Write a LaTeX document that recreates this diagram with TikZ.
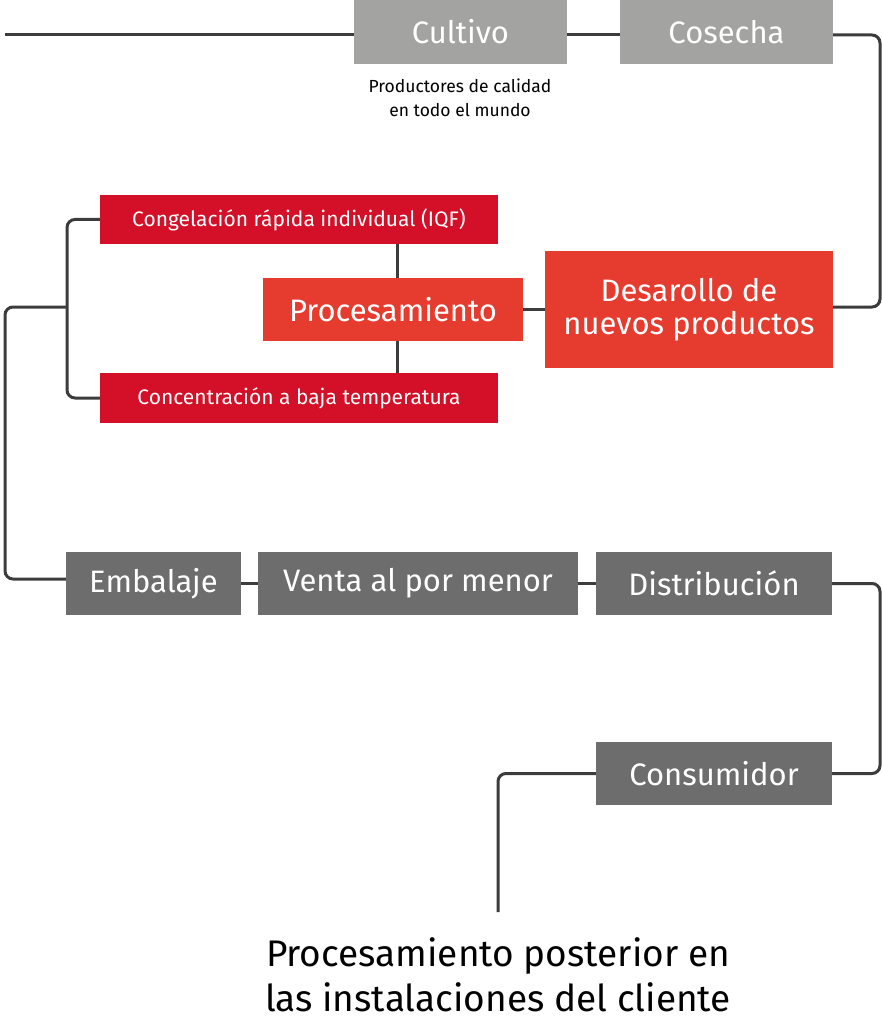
\documentclass[tikz,border=0pt]{standalone}
\usepackage{fontspec}
\setmainfont{Fira Sans}
\definecolor{lgray}{HTML}{A3A3A2}
\definecolor{dgray}{HTML}{6D6D6D}
\definecolor{dred}{HTML}{D31027}
\definecolor{ored}{HTML}{E63C2F}
\definecolor{ln}{HTML}{3C3C3C}
\begin{document}
\begin{tikzpicture}[x=1pt,y=-1pt,
 box/.style={inner sep=0pt,text=white,align=center},
 conn/.style={draw=ln,line width=3pt,rounded corners=8pt},
 big/.style={font=\fontsize{31}{37}\selectfont},
 small/.style={font=\fontsize{21}{25}\selectfont}]
\useasboundingbox (0,0) rectangle (882,1024);
\node[box,big,fill=lgray,minimum width=213pt,minimum height=64pt] (cult) at (460.5,32) {Cultivo};
\node[box,big,fill=lgray,minimum width=213pt,minimum height=64pt] (cos) at (726.5,32) {Cosecha};
\coordinate (s) at (5,35);
\node[align=center,font=\fontsize{17.5}{24}\selectfont] (cap) at (460,98) {Productores de calidad\\en todo el mundo};
\node[box,small,fill=dred,minimum width=398pt,minimum height=49pt] (iqf) at (299,219.5) {Congelación rápida individual (IQF)};
\node[box,big,fill=ored,minimum width=260pt,minimum height=63pt] (proc) at (393,309.5) {Procesamiento};
\node[box,big,fill=ored,minimum width=288pt,minimum height=117pt] (des) at (689,309.5) {Desarollo de\\[-4pt]nuevos productos};
\node[box,small,fill=dred,minimum width=398pt,minimum height=50pt] (conc) at (299,398) {Concentración a baja temperatura};
\node[box,big,fill=dgray,minimum width=175pt,minimum height=63pt] (emb) at (153.5,583.5) {Embalaje};
\node[box,big,fill=dgray,minimum width=320pt,minimum height=63pt] (ven) at (418,583.5) {Venta al por menor};
\node[box,big,fill=dgray,minimum width=236pt,minimum height=63pt] (dis) at (714,583.5) {Distribución};
\node[box,big,fill=dgray,minimum width=236pt,minimum height=63pt] (con) at (714,773.5) {Consumidor};
\coordinate (e) at (498,912);
\node[align=center,font=\fontsize{37}{45}\selectfont] (fin) at (498,975) {Procesamiento posterior en\\las instalaciones del cliente};
\draw[conn] (s) -- (cult.west |- s);
\draw[conn] (cult.east |- s) -- (cos.west |- s);
\draw[conn] (cos.east |- s) -- (880,35) -- (880,307) -- (des.east |- 0,307);
\draw[conn] (proc.east) -- (des.west |- proc.east);
\draw[conn] (397,244) -- (397,278);
\draw[conn] (397,341) -- (397,373);
\draw[conn] (iqf.west) -- (67,219.5) -- (67,398) -- (conc.west);
\draw[conn] (67,307) -- (5,307) -- (5,579) -- (emb.west |- 0,579);
\draw[conn] (emb.east) -- (ven.west);
\draw[conn] (ven.east) -- (dis.west);
\draw[conn] (dis.east) -- (880,583.5) -- (880,773.5) -- (con.east);
\draw[conn] (con.west) -- (498,773.5) -- (e);
\end{tikzpicture}
\end{document}
